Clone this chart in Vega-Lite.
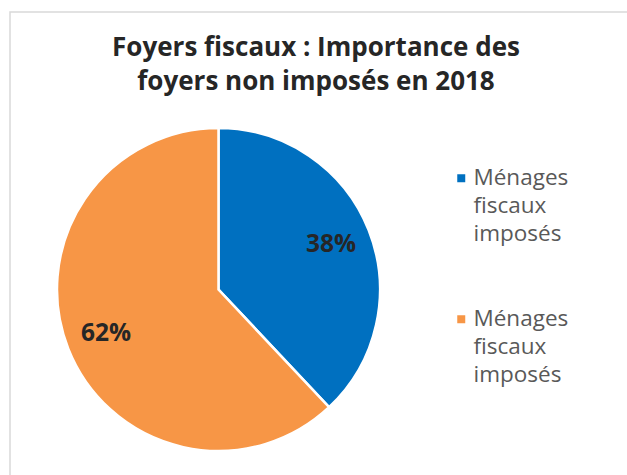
{
  "$schema": "https://vega.github.io/schema/vega-lite/v6.json",
  "autosize": "none",
  "padding": {"left": 10, "top": 12, "right": 0, "bottom": 0},
  "width": 640,
  "height": 480,
  "background": "#ffffff",
  "view": {"stroke": "#d9d9d9", "strokeWidth": 1.5},
  "config": {
    "view": {"stroke": "#d9d9d9", "strokeWidth": 1.5},
    "font": "Open Sans",
    "style": {"guide-label": {"lineHeight": 28}}
  },
  "title": {
    "text": ["Foyers fiscaux : Importance des", "foyers non imposés en 2018"],
    "orient": "top",
    "anchor": "start",
    "align": "center",
    "dx": 306,
    "offset": -83,
    "font": "Open Sans",
    "fontSize": 26,
    "fontWeight": "bold",
    "color": "#262626",
    "lineHeight": 34
  },
  "data": {
    "values": [
      {"cat": "a", "label": "Ménages fiscaux imposés", "pct": 38, "txt": "38%", "ord": 1},
      {"cat": "b", "label": "Ménages fiscaux imposés", "pct": 62, "txt": "62%", "ord": 2}
    ]
  },
  "encoding": {
    "theta": {"field": "pct", "type": "quantitative", "stack": true},
    "order": {"field": "ord", "type": "quantitative"},
    "color": {
      "field": "cat",
      "type": "nominal",
      "scale": {"domain": ["a", "b"], "range": ["#0070C0", "#F79646"]},
      "legend": {
        "title": null,
        "orient": "none",
        "legendX": 440,
        "legendY": 155,
        "symbolType": "square",
        "symbolSize": 64,
        "symbolStrokeWidth": 0,
        "labelExpr": "['Ménages', 'fiscaux', 'imposés']",
        "labelFont": "Open Sans",
        "labelFontSize": 22.5,
        "labelColor": "#595959",
        "labelOffset": 1,
        "labelLimit": 0,
        "rowPadding": 62,
        "padding": 0,
        "encode": {"labels": {"update": {"lineHeight": {"value": 28}}}}
      }
    }
  },
  "layer": [
    {
      "mark": {"type": "arc", "x": 208.5, "y": 277.5, "outerRadius": 161.5, "stroke": "#ffffff", "strokeWidth": 2.5}
    },
    {
      "mark": {"type": "text", "x": 208.5, "y": 277.5, "radius": 121, "font": "Open Sans", "fontSize": 24.5, "fontWeight": "bold"},
      "encoding": {
        "text": {"field": "txt"},
        "color": {"value": "#262626"}
      }
    }
  ]
}
